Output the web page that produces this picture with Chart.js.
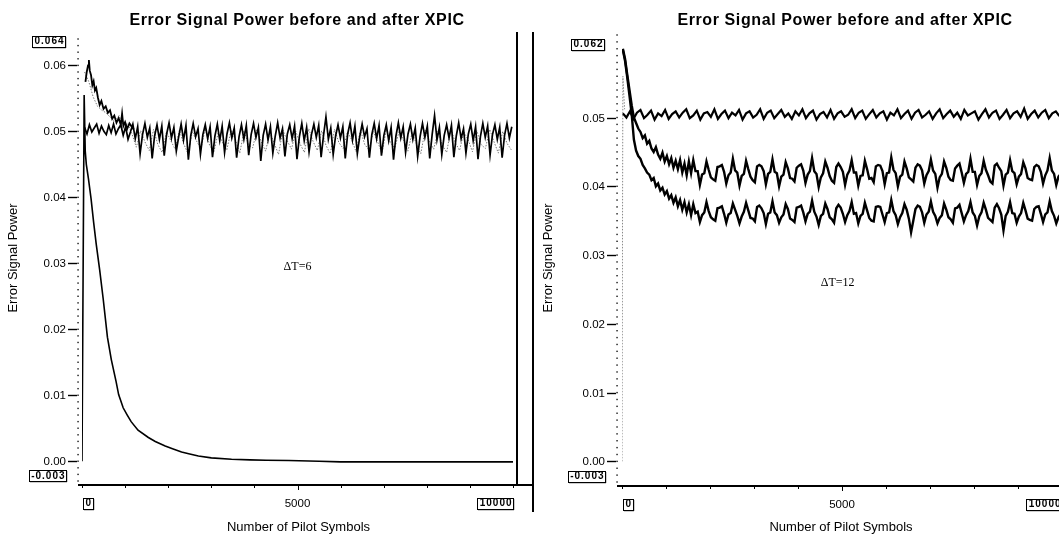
<!DOCTYPE html>
<html><head><meta charset="utf-8">
<script src="https://cdn.jsdelivr.net/npm/chart.js@4"></script>
<style>
html,body{margin:0;padding:0;background:#fff;overflow:hidden;width:1059px;height:536px}
#c1{position:absolute;left:0;top:0}
#c2{position:absolute;left:536px;top:0}
</style></head><body>
<canvas id="c1" width="536" height="536"></canvas>
<canvas id="c2" width="540" height="536"></canvas>
<script>
// ---------- shared text ----------
const chartTitle = 'Error Signal Power before and after XPIC';
const xAxisTitle = 'Number of Pilot Symbols';
const yAxisTitle = 'Error Signal Power';
const xTickValues = [0, 5000, 10000];
const xTickLabels = ['0', '5000', '10000'];

// ---------- left panel (ΔT=6) ----------
const leftYMin = -0.003, leftYMax = 0.064;
const leftYTickValues = [0, 0.01, 0.02, 0.03, 0.04, 0.05, 0.06];
const leftYTickLabels = ['0.00', '0.01', '0.02', '0.03', '0.04', '0.05', '0.06'];
const leftBoxLabels = ['0.064', '-0.003'];
const leftNote = 'ΔT=6';

// band around 0.05 (black), sampled from x=60 every 56 symbols
const leftBandStart = 60, leftBandStep = 56;
const leftBandY = [
0.0506,0.0496,0.0510,0.0499,0.0505,0.0511,0.0497,0.0508,0.0500,0.0495,
0.0509,0.0498,0.0511,0.0496,0.0504,0.0510,0.0494,0.0507,0.0488,0.0499,
0.0511,0.0489,0.0507,0.0466,0.0495,0.0512,0.0491,0.0505,0.0459,0.0493,
0.0510,0.0488,0.0508,0.0463,0.0496,0.0513,0.0490,0.0506,0.0470,0.0492,
0.0511,0.0487,0.0509,0.0457,0.0494,0.0512,0.0492,0.0504,0.0465,0.0495,
0.0510,0.0489,0.0507,0.0461,0.0493,0.0511,0.0486,0.0508,0.0468,0.0496,
0.0513,0.0490,0.0505,0.0460,0.0492,0.0510,0.0488,0.0509,0.0464,0.0495,
0.0512,0.0491,0.0506,0.0455,0.0494,0.0511,0.0487,0.0507,0.0467,0.0493,
0.0513,0.0490,0.0504,0.0462,0.0496,0.0510,0.0489,0.0508,0.0458,0.0492,
0.0512,0.0486,0.0506,0.0469,0.0495,0.0511,0.0491,0.0509,0.0461,0.0494,
0.0522,0.0488,0.0505,0.0465,0.0493,0.0510,0.0490,0.0507,0.0459,0.0496,
0.0513,0.0487,0.0508,0.0466,0.0492,0.0511,0.0492,0.0504,0.0460,0.0495,
0.0512,0.0489,0.0509,0.0463,0.0494,0.0510,0.0486,0.0506,0.0457,0.0493,
0.0513,0.0490,0.0507,0.0468,0.0496,0.0511,0.0488,0.0505,0.0462,0.0492,
0.0512,0.0491,0.0508,0.0459,0.0495,0.0524,0.0487,0.0506,0.0465,0.0494,
0.0510,0.0490,0.0509,0.0461,0.0493,0.0513,0.0489,0.0504,0.0467,0.0496,
0.0511,0.0486,0.0507,0.0458,0.0492,0.0512,0.0491,0.0508,0.0464,0.0495,
0.0510,0.0488,0.0506,0.0460,0.0494,0.0512,0.0490,0.0507];

// early overshoot of the band (black)
const leftPeakX = [80,110,140,160,180,210,240,270,300,330,370,410,450,500,550,600,650,700,750,800,
  850,900,930,960,1000,1050,1100,1200];
const leftPeakY = [0.0575,0.0590,0.0600,0.0608,0.0592,0.0585,0.0570,0.0576,0.0562,0.0566,
  0.0551,0.0540,0.0546,0.0534,0.0538,0.0528,0.0532,0.0519,0.0524,0.0513,
  0.0520,0.0510,0.0527,0.0508,0.0514,0.0504,0.0512,0.0503];

// grey trace (before XPIC), sampled from x=60 every 100 symbols
const leftGreyStart = 60, leftGreyStep = 100;
const leftGreyY = [
0.0590,0.0575,0.0552,0.0538,0.0532,0.0528,0.0521,0.0515,0.0524,0.0508,
0.0512,0.0496,0.0476,0.0501,0.0484,0.0471,0.0503,0.0480,0.0468,0.0499,
0.0486,0.0473,0.0502,0.0481,0.0466,0.0500,0.0485,0.0474,0.0504,0.0479,
0.0469,0.0498,0.0483,0.0472,0.0502,0.0487,0.0467,0.0501,0.0480,0.0475,
0.0503,0.0484,0.0470,0.0499,0.0482,0.0465,0.0502,0.0486,0.0473,0.0500,
0.0481,0.0468,0.0504,0.0485,0.0471,0.0501,0.0479,0.0466,0.0503,0.0483,
0.0474,0.0499,0.0487,0.0469,0.0502,0.0480,0.0472,0.0500,0.0484,0.0467,
0.0503,0.0482,0.0475,0.0501,0.0486,0.0470,0.0498,0.0481,0.0466,0.0502,
0.0485,0.0473,0.0500,0.0479,0.0468,0.0504,0.0483,0.0471,0.0499,0.0487,
0.0469,0.0501,0.0480,0.0474,0.0503,0.0484,0.0467,0.0500,0.0482,0.0472];

// decaying trace (after XPIC)
const leftDecayX = [0,50,75,100,150,210,270,330,410,490,590,680,790,850,955,1050,1140,1300,1540,1700,
  1930,2100,2310,2500,2700,3000,3470,3900,4270,4800,5500,6000,7000,8000,9000,10000];
const leftDecayY = [0,0.0555,0.0470,0.0450,0.0428,0.0398,0.0362,0.0329,0.0290,0.0247,
  0.0188,0.0154,0.0121,0.0101,0.0081,0.0070,0.0060,0.0047,0.0036,0.0030,
  0.0023,0.0019,0.0014,0.0011,0.0008,0.0005,0.0003,0.0002,0.00015,0.0001,
  0.0000,-0.0001,-0.0001,-0.0001,-0.0001,-0.0001];

// ---------- right panel (ΔT=12) ----------
const rightYMin = -0.003, rightYMax = 0.062;
const rightYTickValues = [0, 0.01, 0.02, 0.03, 0.04, 0.05];
const rightYTickLabels = ['0.00', '0.01', '0.02', '0.03', '0.04', '0.05'];
const rightBoxLabels = ['0.062', '-0.003'];
const rightNote = 'ΔT=12';

// top trace, from x=20 every 80 symbols
const rightTopStart = 20, rightTopStep = 80;
const rightTopY = [
0.0506,0.0500,0.0509,0.0498,0.0507,0.0511,0.0499,0.0504,0.0510,0.0497,
0.0506,0.0502,0.0511,0.0498,0.0505,0.0509,0.0500,0.0507,0.0512,0.0499,
0.0503,0.0510,0.0497,0.0506,0.0508,0.0501,0.0512,0.0498,0.0505,0.0510,
0.0499,0.0507,0.0503,0.0511,0.0497,0.0506,0.0509,0.0500,0.0504,0.0512,
0.0498,0.0507,0.0510,0.0499,0.0505,0.0511,0.0501,0.0506,0.0498,0.0509,
0.0503,0.0512,0.0499,0.0506,0.0510,0.0497,0.0505,0.0508,0.0500,0.0511,
0.0498,0.0506,0.0509,0.0501,0.0504,0.0512,0.0499,0.0507,0.0510,0.0498,
0.0505,0.0511,0.0500,0.0506,0.0509,0.0497,0.0507,0.0503,0.0512,0.0499,
0.0505,0.0510,0.0498,0.0507,0.0511,0.0500,0.0504,0.0509,0.0498,0.0506,
0.0512,0.0499,0.0505,0.0510,0.0501,0.0507,0.0498,0.0511,0.0503,0.0506,
0.0509,0.0497,0.0505,0.0512,0.0500,0.0507,0.0510,0.0498,0.0504,0.0511,
0.0499,0.0506,0.0509,0.0501,0.0513,0.0498,0.0505,0.0510,0.0500,0.0507,
0.0511,0.0499,0.0506,0.0509,0.0502];

// middle and lower traces, from x=20 every 50 symbols
const rightStart = 20, rightStep = 50;
const rightMidY = [
0.0600,0.0585,0.0562,0.0540,0.0518,0.0500,0.0492,0.0484,0.0479,0.0470,0.0474,0.0462,0.0466,0.0455,0.0450,0.0457,
0.0446,0.0440,0.0449,0.0436,0.0444,0.0432,0.0441,0.0427,0.0437,0.0425,0.0438,0.0420,0.0433,0.0416,0.0436,0.0419,
0.0438,0.0422,0.0422,0.0402,0.0417,0.0419,0.0436,0.0424,0.0413,0.0410,0.0408,0.0428,
0.0429,0.0431,0.0421,0.0404,0.0416,0.0420,0.0440,0.0423,0.0420,0.0401,0.0415,0.0418,
0.0437,0.0425,0.0414,0.0409,0.0406,0.0429,0.0431,0.0429,0.0422,0.0403,0.0418,0.0421,
0.0439,0.0421,0.0419,0.0400,0.0414,0.0417,0.0435,0.0426,0.0412,0.0411,0.0407,0.0427,
0.0430,0.0432,0.0423,0.0405,0.0417,0.0422,0.0441,0.0422,0.0418,0.0399,0.0413,0.0419,
0.0436,0.0427,0.0415,0.0408,0.0405,0.0428,0.0433,0.0428,0.0421,0.0402,0.0417,0.0423,
0.0438,0.0420,0.0420,0.0401,0.0415,0.0416,0.0437,0.0425,0.0411,0.0412,0.0406,0.0429,
0.0431,0.0430,0.0422,0.0403,0.0419,0.0420,0.0442,0.0424,0.0419,0.0400,0.0414,0.0417,
0.0436,0.0426,0.0413,0.0410,0.0407,0.0427,0.0432,0.0430,0.0423,0.0404,0.0416,0.0422,
0.0439,0.0423,0.0418,0.0398,0.0413,0.0418,0.0436,0.0427,0.0414,0.0409,0.0408,0.0426,
0.0430,0.0433,0.0420,0.0405,0.0418,0.0421,0.0440,0.0421,0.0421,0.0402,0.0415,0.0419,
0.0437,0.0424,0.0416,0.0407,0.0404,0.0430,0.0433,0.0427,0.0422,0.0401,0.0417,0.0420,
0.0438,0.0422,0.0419,0.0403,0.0414,0.0418,0.0435,0.0426,0.0412,0.0410,0.0409,0.0428,
0.0431,0.0429,0.0421,0.0404,0.0416,0.0423,0.0441,0.0423,0.0418,0.0402,0.0414,0.0418];
const rightLowY = [
0.0598,0.0582,0.0558,0.0532,0.0505,0.0468,0.0452,0.0444,0.0440,0.0431,0.0426,0.0420,0.0417,0.0409,0.0412,0.0400,
0.0404,0.0394,0.0398,0.0388,0.0393,0.0382,0.0387,0.0376,0.0384,0.0371,0.0380,0.0366,0.0377,0.0362,0.0374,0.0358,
0.0374,0.0361,0.0363,0.0348,0.0358,0.0362,0.0377,0.0364,0.0355,0.0352,0.0350,0.0368,
0.0369,0.0371,0.0360,0.0347,0.0359,0.0361,0.0375,0.0366,0.0357,0.0346,0.0356,0.0363,
0.0376,0.0365,0.0354,0.0353,0.0349,0.0370,0.0372,0.0368,0.0361,0.0345,0.0360,0.0362,
0.0378,0.0362,0.0358,0.0347,0.0355,0.0359,0.0374,0.0367,0.0353,0.0351,0.0348,0.0369,
0.0370,0.0372,0.0362,0.0349,0.0360,0.0363,0.0379,0.0363,0.0356,0.0344,0.0357,0.0360,
0.0375,0.0367,0.0355,0.0352,0.0347,0.0368,0.0373,0.0369,0.0360,0.0348,0.0358,0.0364,
0.0377,0.0360,0.0361,0.0346,0.0357,0.0360,0.0376,0.0365,0.0354,0.0350,0.0349,0.0370,
0.0371,0.0370,0.0359,0.0348,0.0361,0.0362,0.0380,0.0364,0.0358,0.0345,0.0355,0.0361,
0.0374,0.0366,0.0353,0.0333,0.0350,0.0367,0.0372,0.0370,0.0362,0.0347,0.0359,0.0363,
0.0378,0.0363,0.0357,0.0346,0.0354,0.0358,0.0375,0.0366,0.0355,0.0352,0.0347,0.0368,
0.0369,0.0373,0.0361,0.0349,0.0358,0.0364,0.0377,0.0362,0.0357,0.0343,0.0356,0.0362,
0.0376,0.0366,0.0354,0.0351,0.0348,0.0369,0.0374,0.0368,0.0359,0.0336,0.0357,0.0363,
0.0377,0.0361,0.0360,0.0347,0.0356,0.0361,0.0376,0.0365,0.0353,0.0351,0.0350,0.0367,
0.0370,0.0371,0.0360,0.0348,0.0359,0.0362,0.0378,0.0364,0.0357,0.0346,0.0355,0.0360];
// grey rise at start (before XPIC)
const rightRiseX = [0, 10, 20, 35, 60];
const rightRiseY = [0.0, 0.030, 0.0560, 0.0540, 0.0512];

// ---------- helpers ----------
const SANS = "'Liberation Sans', Arial, Helvetica, sans-serif";
const SERIF = "'Liberation Serif', 'Times New Roman', serif";
function sampled(start, step, ys) { return ys.map((y, i) => ({ x: start + i * step, y })); }
function paired(xs, ys) { return xs.map((x, i) => ({ x, y: ys[i] })); }

function boxText(ctx, text, x, cy, align) {
  ctx.font = 'bold 10px ' + SANS;
  ctx.letterSpacing = '1px';
  const w = ctx.measureText(text).width + 3;
  const h = 11;
  let left = align === 'right' ? x - w : x;
  ctx.fillStyle = '#fff';
  ctx.fillRect(left, cy - h / 2, w, h);
  ctx.strokeStyle = '#000';
  ctx.lineWidth = 1;
  ctx.strokeRect(Math.round(left) + 0.5, Math.round(cy - h / 2) + 0.5, Math.round(w), h);
  ctx.fillStyle = '#000';
  ctx.fillRect(Math.round(left) + Math.round(w), Math.round(cy - h / 2) + 1, 1.2, h);
  ctx.fillRect(Math.round(left) + 1, Math.round(cy + h / 2), Math.round(w), 1.2);
  ctx.textAlign = 'left';
  ctx.textBaseline = 'middle';
  ctx.fillText(text, left + 2.5, cy + 0.5);
  ctx.letterSpacing = '0px';
}

function decor(cfg) {
  return {
    id: 'decor' + cfg.name,
    afterDraw(chart) {
      const ctx = chart.ctx, xs = chart.scales.x, ys = chart.scales.y, ca = chart.chartArea;
      ctx.save();
      ctx.fillStyle = '#000'; ctx.strokeStyle = '#000';
      const ax = ca.left - cfg.axisGap;
      for (let k = Math.ceil(cfg.yMin * 1000); k <= Math.floor(cfg.yMax * 1000); k++) {
        const py = ys.getPixelForValue(k / 1000);
        ctx.fillRect(ax - 0.6, py - 0.7, 1.3, 1.4);
      }
      ctx.font = '11.5px ' + SANS;
      ctx.textAlign = 'right'; ctx.textBaseline = 'middle';
      ctx.lineWidth = 1.4;
      cfg.yTicks.forEach((v, i) => {
        const py = Math.round(ys.getPixelForValue(v)) + 0.5;
        ctx.beginPath(); ctx.moveTo(ax - 10, py); ctx.lineTo(ax - 1, py); ctx.stroke();
        ctx.fillText(cfg.yLabels[i], ax - 12, py + 0.5);
      });
      boxText(ctx, cfg.boxes[0], ax - 13, ys.getPixelForValue(cfg.yMax) + cfg.topBoxOff, 'right');
      boxText(ctx, cfg.boxes[1], ax - 12, ys.getPixelForValue(cfg.yMin) + cfg.botBoxOff, 'right');
      const ay = ca.bottom + cfg.xAxisGap;
      ctx.lineWidth = 2;
      ctx.beginPath(); ctx.moveTo(ax, ay); ctx.lineTo(cfg.xAxisEnd, ay); ctx.stroke();
      ctx.lineWidth = 1;
      for (let k = 0; k <= 10; k++) {
        const px = Math.round(xs.getPixelForValue(k * 1000)) + 0.5;
        ctx.beginPath(); ctx.moveTo(px, ay); ctx.lineTo(px, ay + (k === 5 ? 5 : 3)); ctx.stroke();
      }
      const lx0 = xs.getPixelForValue(xTickValues[0]);
      const lx2 = xs.getPixelForValue(xTickValues[2]);
      boxText(ctx, xTickLabels[0], lx0 + 1, ay + 18, 'left');
      boxText(ctx, xTickLabels[2], lx2, ay + 18, 'right');
      ctx.font = '11.5px ' + SANS; ctx.fillStyle = '#000';
      ctx.textAlign = 'center'; ctx.textBaseline = 'middle';
      ctx.fillText(xTickLabels[1], xs.getPixelForValue(xTickValues[1]), ay + 19);
      ctx.font = '13px ' + SANS;
      ctx.textBaseline = 'alphabetic';
      ctx.fillText(xAxisTitle, (lx0 + lx2) / 2 + cfg.xTitleShift, 531);
      ctx.save();
      ctx.translate(cfg.yTitleX, 258); ctx.rotate(-Math.PI / 2);
      ctx.textBaseline = 'middle';
      ctx.fillText(yAxisTitle, 0, 0);
      ctx.restore();
      ctx.font = 'bold 16px ' + SANS;
      ctx.letterSpacing = '0.6px';
      ctx.textAlign = 'center'; ctx.textBaseline = 'alphabetic';
      ctx.fillText(chartTitle, cfg.titleX, 25);
      ctx.letterSpacing = '0px';
      ctx.font = '12px ' + SERIF;
      ctx.textBaseline = 'middle';
      ctx.fillText(cfg.note, xs.getPixelForValue(cfg.noteX), ys.getPixelForValue(cfg.noteY));
      ctx.lineWidth = 2;
      (cfg.frames || []).forEach(f => {
        ctx.beginPath(); ctx.moveTo(f[0], f[1]); ctx.lineTo(f[2], f[3]); ctx.stroke();
      });
      ctx.restore();
    }
  };
}

function baseOptions(yMin, yMax, pad) {
  return {
    responsive: false, animation: false, devicePixelRatio: 1, events: [],
    layout: { padding: pad },
    plugins: { legend: { display: false }, title: { display: false }, tooltip: { enabled: false } },
    elements: { point: { radius: 0 }, line: { tension: 0 } },
    scales: {
      x: { type: 'linear', min: 0, max: 10000, display: false },
      y: { type: 'linear', min: yMin, max: yMax, display: false }
    }
  };
}

// ---------- left chart ----------
new Chart(document.getElementById('c1'), {
  type: 'line',
  data: { datasets: [
    { data: paired(leftDecayX, leftDecayY), borderColor: '#000', borderWidth: 1.6 },
    { data: paired(leftPeakX, leftPeakY), borderColor: '#000', borderWidth: 1.8 },
    { data: sampled(leftBandStart, leftBandStep, leftBandY), borderColor: '#000', borderWidth: 1.7 },
    { data: sampled(leftGreyStart, leftGreyStep, leftGreyY), borderColor: '#777', borderWidth: 1, borderDash: [1.5, 1.5] }
  ] },
  options: baseOptions(leftYMin, leftYMax, { left: 82, right: 23, top: 39, bottom: 55 }),
  plugins: [decor({
    name: 'L', yMin: leftYMin, yMax: leftYMax, yTicks: leftYTickValues, yLabels: leftYTickLabels,
    boxes: leftBoxLabels, axisGap: 4, topBoxOff: 2, botBoxOff: -5.5, xAxisGap: 4, xAxisEnd: 534,
    xTitleShift: 1, yTitleX: 13, titleX: 297, note: leftNote, noteX: 5000, noteY: 0.0295,
    frames: [[517, 32, 517, 485], [533, 32, 533, 512]]
  })]
});

// ---------- right chart ----------
new Chart(document.getElementById('c2'), {
  type: 'line',
  data: { datasets: [
    { data: sampled(rightTopStart, rightTopStep, rightTopY), borderColor: '#000', borderWidth: 2.2 },
    { data: sampled(rightStart, rightStep, rightMidY), borderColor: '#000', borderWidth: 2.4 },
    { data: sampled(rightStart, rightStep, rightLowY), borderColor: '#000', borderWidth: 2.4 },
    { data: paired(rightRiseX, rightRiseY), borderColor: '#888', borderWidth: 1, borderDash: [1.5, 1.5] }
  ] },
  options: baseOptions(rightYMin, rightYMax, { left: 86, right: 14, top: 35, bottom: 54 }),
  plugins: [decor({
    name: 'R', yMin: rightYMin, yMax: rightYMax, yTicks: rightYTickValues, yLabels: rightYTickLabels,
    boxes: rightBoxLabels, axisGap: 5, topBoxOff: 9, botBoxOff: -6, xAxisGap: 4, xAxisEnd: 540,
    xTitleShift: -1, yTitleX: 12, titleX: 309, note: rightNote, noteX: 4900, noteY: 0.026,
    frames: []
  })]
});
</script>
</body></html>
